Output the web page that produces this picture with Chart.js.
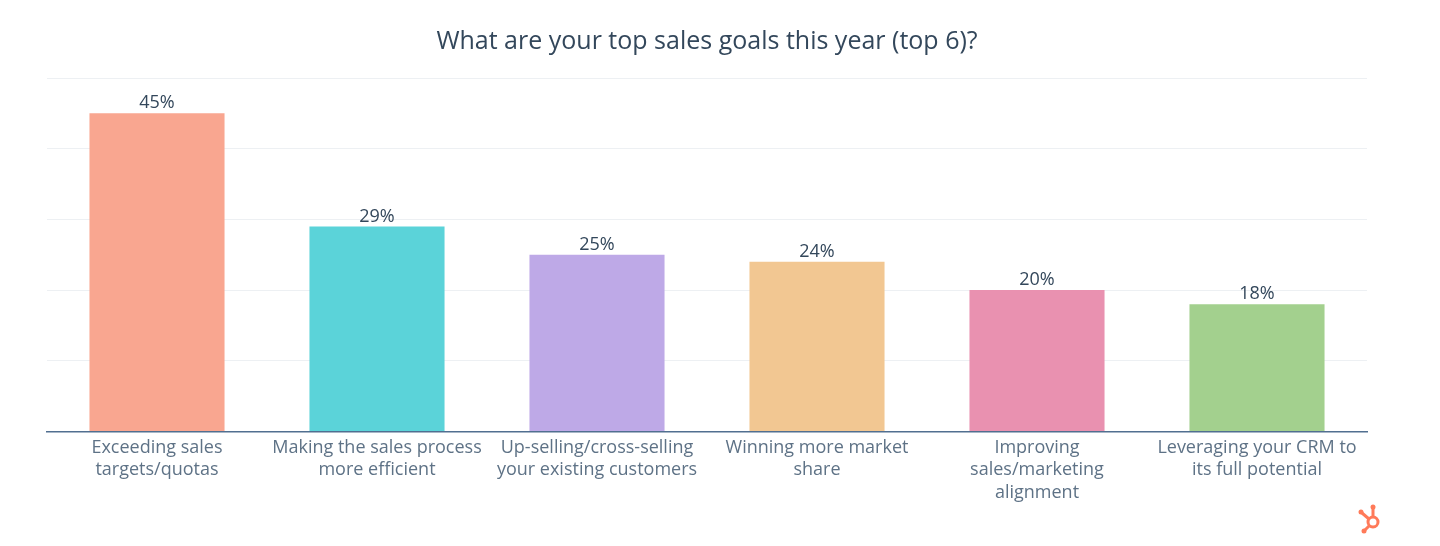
<!DOCTYPE html>
<html>
<head>
<meta charset="utf-8">
<script src="https://cdn.jsdelivr.net/npm/chart.js@4"></script>
<style>
  html, body { margin: 0; padding: 0; background: #fff; }
  #wrap { width: 1440px; height: 546px; }
</style>
</head>
<body>
<div id="wrap"><canvas id="c"></canvas></div>
<script>
// data
const goals = [
    ["Exceeding sales", "targets/quotas"],
    ["Making the sales process", "more efficient"],
    ["Up-selling/cross-selling", "your existing customers"],
    ["Winning more market", "share"],
    ["Improving", "sales/marketing", "alignment"],
    ["Leveraging your CRM to", "its full potential"]
]
const shares = [45, 29, 25, 24, 20, 18]
const barColors = ["#f9a690", "#5bd3d9", "#bea9e7", "#f2c792", "#e991b0", "#a3d08e"]
const yTicks = [0, 10, 20, 30, 40, 50]

// labels on top of the bars
const valueLabels = {
    id: 'valueLabels',
    afterDatasetsDraw(chart) {
        let ctx = chart.ctx
        let meta = chart.getDatasetMeta(0)
        ctx.save()
        ctx.font = '18px "Open Sans"'
        ctx.fillStyle = '#33475b'
        ctx.textAlign = 'center'
        ctx.textBaseline = 'bottom'
        meta.data.forEach((bar, i) => {
            ctx.fillText(shares[i] + '%', bar.x, bar.y - 1)
        })
        ctx.restore()
    }
}

// small sprocket logo bottom right
const logo = {
    id: 'logo',
    afterDraw(chart) {
        let ctx = chart.ctx
        ctx.save()
        ctx.strokeStyle = '#ff7a59'
        ctx.fillStyle = '#ff7a59'
        ctx.lineWidth = 3
        ctx.beginPath()
        ctx.arc(1373, 522, 5, 0, Math.PI * 2)
        ctx.stroke()
        ctx.beginPath()
        ctx.moveTo(1373, 517); ctx.lineTo(1373, 508)
        ctx.moveTo(1369, 519); ctx.lineTo(1362, 513)
        ctx.moveTo(1369, 526); ctx.lineTo(1365, 530)
        ctx.stroke()
        ctx.beginPath(); ctx.arc(1373, 507, 2.5, 0, Math.PI * 2); ctx.fill()
        ctx.beginPath(); ctx.arc(1361, 512, 2.5, 0, Math.PI * 2); ctx.fill()
        ctx.beginPath(); ctx.arc(1364, 531, 2.5, 0, Math.PI * 2); ctx.fill()
        ctx.restore()
    }
}

let c = document.getElementById("c")
let chart = new Chart(c, {
    type: 'bar',
    data: {
        labels: goals,
        datasets: [{
            data: shares,
            backgroundColor: barColors,
            borderWidth: 0,
            categoryPercentage: 0.614,
            barPercentage: 1
        }]
    },
    options: {
        responsive: true,
        maintainAspectRatio: false,
        animation: false,
        layout: {
            padding: { left: 47, right: 73, top: 0, bottom: 39 }
        },
        plugins: {
            legend: { display: false },
            tooltip: { enabled: false },
            title: {
                display: true,
                text: 'What are your top sales goals this year (top 6)?',
                color: '#33475b',
                font: { family: '"Open Sans"', size: 25, weight: '500' },
                padding: { top: 27, bottom: 21 }
            }
        },
        scales: {
            x: {
                grid: { display: false },
                border: { display: true, color: '#516f90', width: 1.5 },
                ticks: {
                    color: '#5e7286',
                    font: { family: '"Open Sans"', size: 18, lineHeight: 1.25 },
                    maxRotation: 0,
                    autoSkip: false,
                    padding: -3
                },
                // keep the last line of the labels from being cut off
                afterFit(scale) {
                    scale.height += 6
                }
            },
            y: {
                min: 0,
                max: 50,
                afterBuildTicks(scale) {
                    scale.ticks = yTicks.map(v => ({ value: v }))
                },
                ticks: { display: false },
                border: { display: false },
                grid: { color: '#edf0f3', lineWidth: 1, drawTicks: false }
            }
        }
    },
    plugins: [valueLabels, logo]
})
</script>
</body>
</html>
